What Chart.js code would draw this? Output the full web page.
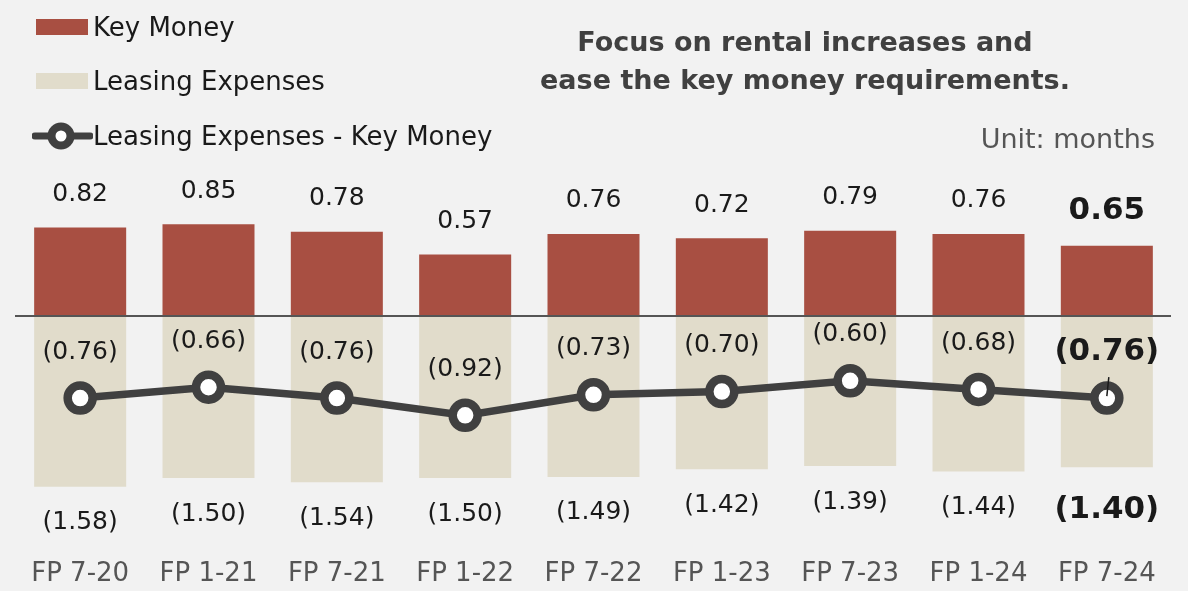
<!DOCTYPE html>
<html>
<head>
<meta charset="utf-8">
<script src="https://cdn.jsdelivr.net/npm/chart.js@4/dist/chart.umd.min.js"></script>
<style>
    html, body { margin: 0; padding: 0; background: #f2f2f2; }
    body { width: 1188px; height: 591px; position: relative; overflow: hidden; font-family: 'DejaVu Sans', Verdana, sans-serif; }
    #wrap { position: absolute; left: 0; top: 0; width: 1188px; height: 591px; }
    .legend-item { position: absolute; left: 32px; height: 30px; display: flex; align-items: center; font-size: 26px; color: #1a1a1a; white-space: nowrap; }
    .swatch { width: 52px; height: 16px; margin: 0 5px 0 4px; }
    .title { position: absolute; left: 505px; width: 600px; top: 23px; text-align: center; font-weight: bold; font-size: 27px; line-height: 38px; color: #404040; white-space: nowrap; }
    .unit { position: absolute; right: 33px; top: 123px; font-size: 27px; color: #555; }
</style>
</head>
<body>
<div id="wrap"><canvas id="chart" width="1188" height="591"></canvas></div>
<div class="legend-item" style="top:12px"><span class="swatch" style="background:#a84f42"></span>Key Money</div>
<div class="legend-item" style="top:66px"><span class="swatch" style="background:#e1dccb"></span>Leasing Expenses</div>
<div class="legend-item" style="top:121px">
    <svg width="61" height="30"><line x1="3" y1="15" x2="58" y2="15" stroke="#404040" stroke-width="7" stroke-linecap="round"/><circle cx="29" cy="15" r="9.5" fill="#fff" stroke="#404040" stroke-width="8"/></svg>Leasing Expenses - Key Money
</div>
<div class="title">Focus on rental increases and<br>ease the key money requirements.</div>
<div class="unit">Unit: months</div>
<script>
document.addEventListener('DOMContentLoaded', function () {
    const periods = ['FP 7-20', 'FP 1-21', 'FP 7-21', 'FP 1-22', 'FP 7-22', 'FP 1-23', 'FP 7-23', 'FP 1-24', 'FP 7-24'];
    const keyMoney = [0.82, 0.85, 0.78, 0.57, 0.76, 0.72, 0.79, 0.76, 0.65];
    const leasing = [-1.58, -1.50, -1.54, -1.50, -1.49, -1.42, -1.39, -1.44, -1.40];
    const difference = [-0.76, -0.66, -0.76, -0.92, -0.73, -0.70, -0.60, -0.68, -0.76];

    const fmt = v => v < 0 ? '(' + Math.abs(v).toFixed(2) + ')' : v.toFixed(2);

    // value labels, last period bold
    const labelPlugin = {
        id: 'valueLabels',
        afterDatasetsDraw(chart) {
            const ctx = chart.ctx;
            const last = periods.length - 1;
            ctx.save();
            ctx.textAlign = 'center';
            ctx.textBaseline = 'middle';
            ctx.fillStyle = '#1a1a1a';
            const offsets = [-33, 36, -46];
            const boldShift = [-2, 7, 0];
            [0, 1, 2].forEach(di => {
                const meta = chart.getDatasetMeta(di);
                meta.data.forEach((el, i) => {
                    const bold = i === last;
                    ctx.font = (bold ? 'bold 31px' : '25px') + " 'DejaVu Sans', sans-serif";
                    const val = chart.data.datasets[di].data[i];
                    ctx.fillText(fmt(val), el.x, el.y + offsets[di] + (bold ? boldShift[di] : 0));
                });
            });
            // small leader mark on the last point
            const p = chart.getDatasetMeta(2).data[last];
            ctx.strokeStyle = '#1a1a1a';
            ctx.lineWidth = 1.5;
            ctx.beginPath();
            ctx.moveTo(p.x + 2, p.y - 21);
            ctx.lineTo(p.x, p.y - 2);
            ctx.stroke();
            ctx.restore();
        }
    };

    // zero line
    const zeroLine = {
        id: 'zeroLine',
        afterDatasetsDraw(chart) {
            const y = chart.scales.y.getPixelForValue(0);
            const ctx = chart.ctx;
            ctx.save();
            ctx.strokeStyle = '#555555';
            ctx.lineWidth = 2;
            ctx.beginPath();
            ctx.moveTo(chart.chartArea.left - 1, y);
            ctx.lineTo(chart.chartArea.right, y);
            ctx.stroke();
            ctx.restore();
        }
    };

    new Chart(document.getElementById('chart'), {
        data: {
            labels: periods,
            datasets: [
                {
                    type: 'bar',
                    label: 'Key Money',
                    data: keyMoney,
                    backgroundColor: '#a84f42',
                    barPercentage: 0.717,
                    categoryPercentage: 1,
                    order: 3
                },
                {
                    type: 'bar',
                    label: 'Leasing Expenses',
                    data: leasing,
                    backgroundColor: '#e1dccb',
                    barPercentage: 0.717,
                    categoryPercentage: 1,
                    order: 2
                },
                {
                    type: 'line',
                    label: 'Leasing Expenses - Key Money',
                    data: difference,
                    borderColor: '#404040',
                    borderWidth: 7.5,
                    pointRadius: 12.5,
                    pointBorderWidth: 8.5,
                    pointBackgroundColor: '#ffffff',
                    pointBorderColor: '#404040',
                    tension: 0,
                    order: 1
                }
            ]
        },
        options: {
            responsive: false,
            animation: false,
            layout: { autoPadding: false, padding: { left: 16, right: 17, top: 154, bottom: 4 } },
            plugins: {
                legend: { display: false },
                tooltip: { enabled: false }
            },
            scales: {
                x: {
                    stacked: true,
                    grid: { display: false, drawTicks: false },
                    border: { display: false },
                    afterFit: scale => {
                        scale.height = 55;
                        scale.paddingLeft = 0;
                        scale.paddingRight = 0;
                    },
                    ticks: {
                        color: '#555555',
                        padding: 27,
                        font: { family: "'DejaVu Sans', sans-serif", size: 26 }
                    }
                },
                y: {
                    display: false,
                    min: -2.0,
                    max: 1.5
                }
            }
        },
        plugins: [zeroLine, labelPlugin]
    });
});
</script>
</body>
</html>
